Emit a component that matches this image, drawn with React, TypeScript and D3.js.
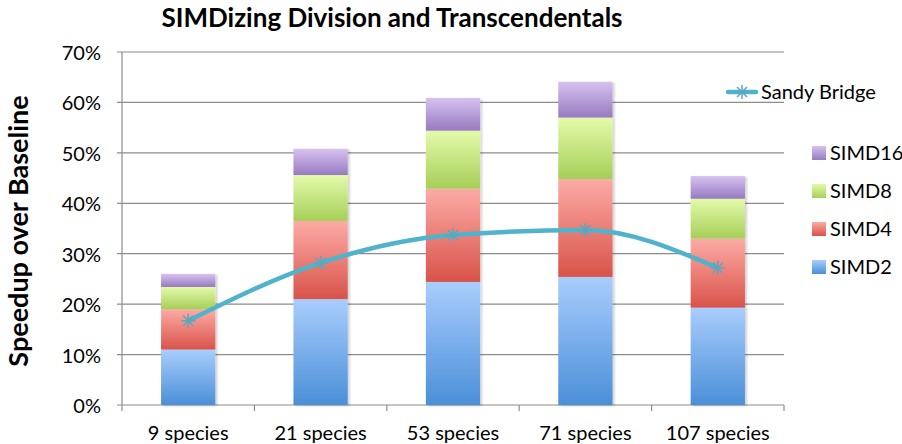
import React from "react";
import * as d3 from "d3";

const categories = ["9 species", "21 species", "53 species", "71 species", "107 species"];
const simd2 = [11.0, 21.0, 24.4, 25.4, 19.3];
const simd4 = [8.0, 15.5, 18.5, 19.4, 13.7];
const simd8 = [4.4, 9.1, 11.5, 12.2, 7.9];
const simd16 = [2.6, 5.2, 6.5, 7.1, 4.5];
const sandyBridge = [16.7, 28.2, 33.7, 34.7, 27.2];
const yTicks = [0, 10, 20, 30, 40, 50, 60, 70];
const seriesNames = ["SIMD2", "SIMD4", "SIMD8", "SIMD16"];

const W = 902, H = 444;
const M = { left: 122, right: 784, top: 52, bottom: 405 };
const FONT = "Lato, 'Open Sans', sans-serif";

const grads: Record<string, [string, string]> = {
  SIMD2: ["#A9CDFD", "#4A8FD8"],
  SIMD4: ["#FCABA5", "#D9534A"],
  SIMD8: ["#E4FAAA", "#A6CF58"],
  SIMD16: ["#D6C2F0", "#977AC0"],
};

export default function App() {
  const x = d3.scaleBand<string>().domain(categories).range([M.left, M.right]).paddingInner(0.59).paddingOuter(0.295);
  const y = d3.scaleLinear().domain([0, 70]).range([M.bottom, M.top]);
  const table = categories.map((c, i) => ({ cat: c, SIMD2: simd2[i], SIMD4: simd4[i], SIMD8: simd8[i], SIMD16: simd16[i] }));
  const stacked = d3.stack<any>().keys(seriesNames)(table);
  const band = (M.right - M.left) / categories.length;
  const cx = (c: string) => (x(c) as number) + x.bandwidth() / 2;
  const line = d3.line<number>().x((_, i) => cx(categories[i])).y((d) => y(d)).curve(d3.curveMonotoneX);
  const lineColor = "#4FB3CB";

  const star = (px: number, py: number, key: string) => {
    const r = 7;
    const segs = [0, 45, 90, 135].map((a) => {
      const rad = (a * Math.PI) / 180;
      return <line key={a} x1={px - r * Math.cos(rad)} y1={py - r * Math.sin(rad)} x2={px + r * Math.cos(rad)} y2={py + r * Math.sin(rad)} stroke="#5AA7C0" strokeWidth={1.5} />;
    });
    return <g key={key}>{segs}</g>;
  };

  const legendItems = [...seriesNames].reverse();

  return (
    <svg width={W} height={H} style={{ position: "absolute", left: 0, top: 0, background: "#fff" }} fontFamily={FONT}>
      <defs>
        {seriesNames.map((s) => (
          <linearGradient key={s} id={"g" + s} x1="0" y1="0" x2="0" y2="1">
            <stop offset="0" stopColor={grads[s][0]} />
            <stop offset="1" stopColor={grads[s][1]} />
          </linearGradient>
        ))}
        <filter id="shadow" x="-10%" y="-10%" width="130%" height="120%">
          <feDropShadow dx="2" dy="1" stdDeviation="1.2" floodColor="#000" floodOpacity="0.18" />
        </filter>
      </defs>
      <text x={392} y={27} textAnchor="middle" fontSize={26} fontWeight="bold" fill="#000">SIMDizing Division and Transcendentals</text>
      {yTicks.map((t) => (
        <g key={t}>
          <line x1={M.left - 5} x2={M.right} y1={y(t)} y2={y(t)} stroke="#8C8C8C" strokeWidth={1.2} />
          <text x={101} y={y(t) + 8} textAnchor="end" fontSize={20} fill="#000">{t}%</text>
        </g>
      ))}
      <line x1={M.left} x2={M.left} y1={M.top} y2={M.bottom} stroke="#8C8C8C" strokeWidth={1.2} />
      {d3.range(categories.length + 1).map((i) => (
        <line key={i} x1={M.left + i * band} x2={M.left + i * band} y1={M.bottom} y2={M.bottom + 6} stroke="#8C8C8C" strokeWidth={1.2} />
      ))}
      <g filter="url(#shadow)">
        {stacked.map((layer) => (
          <g key={layer.key}>
            {layer.map((d, i) => (
              <rect key={i} x={x(categories[i])} y={y(d[1])} width={x.bandwidth()} height={y(d[0]) - y(d[1])} fill={`url(#g${layer.key})`} />
            ))}
          </g>
        ))}
      </g>
      <path d={line(sandyBridge) || ""} fill="none" stroke={lineColor} strokeWidth={4.5} strokeLinejoin="round" />
      {sandyBridge.map((v, i) => star(cx(categories[i]), y(v), "s" + i))}
      {categories.map((c) => (
        <text key={c} x={cx(c)} y={440} textAnchor="middle" fontSize={20} fill="#000">{c}</text>
      ))}
      <text transform={`translate(28,${231}) rotate(-90)`} textAnchor="middle" fontSize={27} fontWeight="bold" fill="#000">Speedup over Baseline</text>
      <line x1={728} x2={756} y1={92} y2={92} stroke={lineColor} strokeWidth={4.5} strokeLinecap="round" />
      {star(742, 92, "legstar")}
      <text x={761} y={99} fontSize={20} fill="#000">Sandy Bridge</text>
      {legendItems.map((s, i) => (
        <g key={s}>
          <rect x={812} y={146 + i * 38} width={14} height={14} fill={`url(#g${s})`} />
          <text x={830} y={160 + i * 38} fontSize={20} fill="#000">{s}</text>
        </g>
      ))}
    </svg>
  );
}
